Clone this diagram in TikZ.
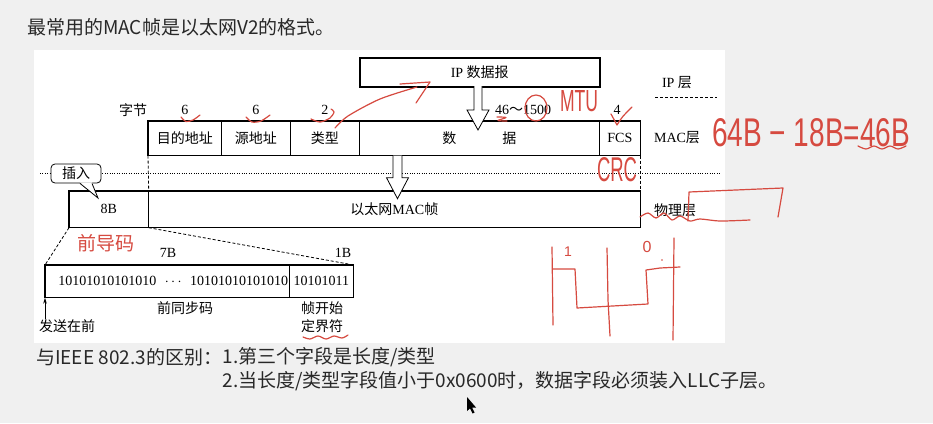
\documentclass[tikz,border=0pt]{standalone}
\usepackage{fontspec}
\setmainfont{Liberation Serif}
\newfontfamily\cjk{Noto Sans CJK SC}
\newfontfamily\hand{Liberation Sans}
\usetikzlibrary{calc,arrows.meta}
\definecolor{ink}{RGB}{40,40,40}
\definecolor{pen}{RGB}{214,74,64}
\definecolor{slide}{RGB}{240,240,240}

\begin{document}
\begin{tikzpicture}[x=1pt,y=-1pt,
  cell/.style={draw, line width=0.7pt, minimum height=34pt, inner sep=0pt,
    font=\fontsize{14}{16}\selectfont, anchor=north west},
  frame/.style={line width=1.5pt},
  lbl/.style={font=\fontsize{14}{16}\selectfont, inner sep=0pt},
  slidetext/.style={font=\cjk\fontsize{19}{22}\selectfont, text=ink, inner sep=0pt},
  hand/.style={pen, line width=1.2pt, line cap=round, line join=round},
  handtext/.style={text=pen, inner sep=0pt, font=\hand},
  blockarrow/.style={draw, fill=white, line width=0.8pt, line join=miter},
  dashline/.style={dash pattern=on 3pt off 2pt, line width=0.8pt},
  dotline/.style={dash pattern=on 0.8pt off 1.6pt, line width=0.8pt},
]
% slide background and the white figure area
\fill[slide] (0,0) rectangle (933,423);
\fill[white] (34,50) rectangle (725,343);
\useasboundingbox (0,0) rectangle (933,423);

% heading
\node[slidetext, anchor=west] (title) at (27,27) {最常用的MAC帧是以太网V2的格式。};

% IP datagram
\node[cell, minimum width=240pt, minimum height=29pt, line width=1.5pt] (ip) at (359,57) {IP {\cjk 数据报}};

% MAC frame fields
\node[cell, minimum width=73pt] (dst) at (148,121) {\cjk 目的地址};
\node[cell, minimum width=69pt] (src) at (221,121) {\cjk 源地址};
\node[cell, minimum width=69pt] (typ) at (290,121) {\cjk 类型};
\node[cell, minimum width=240pt] (dat) at (359,121) {\cjk 数\hspace{46pt}据};
\node[cell, minimum width=41pt] (fcs) at (599,121) {FCS};
\draw[frame] (dst.north west) rectangle (fcs.south east);

% field lengths
\node[lbl] (bytes) at (133,110) {\cjk 字节};
\node[lbl] (ndst) at ($(dst.north)+(0,-11)$) {6};
\node[lbl] (nsrc) at ($(src.north)+(0,-11)$) {6};
\node[lbl] (ntyp) at ($(typ.north)+(0,-11)$) {2};
\node[lbl] (ndat) at (523,110) {46{\cjk ～}1500};
\node[lbl] (nfcs) at (617,110) {4};

% layer names
\node[lbl] (lip) at (677,83) {IP {\cjk 层}};
\draw[dashline] (655,97) -- (717,97);
\node[lbl] (lmac) at (677,138) {MAC{\cjk 层}};
\node[lbl] (lphy) at (675,210) {\cjk 物理层};

% layer boundary
\draw[dotline] (40,173) -- (720,173);

% physical layer frame
\node[cell, minimum width=79pt, minimum height=36pt] (pre8) at (69,191) {8B};
\node[cell, minimum width=492pt, minimum height=36pt] (frm) at (148,191) {{\cjk 以太网}MAC{\cjk 帧}};
\draw[frame] (pre8.north west) rectangle (frm.south east);
\draw[dashline] (dst.south west) -- (pre8.north east);
\draw[dashline] (fcs.south east) -- (frm.north east);

% encapsulation arrows
\coordinate (a1) at (478,86);
\draw[blockarrow] (a1) +(-4,0) -- +(-4,24) -- +(-11,24) -- +(0,44) -- +(11,24) -- +(4,24) -- +(4,0);
\coordinate (a2) at ($(dat.south west)+(38.5,0)$);
\draw[blockarrow] (a2) +(-4.5,0) -- +(-4.5,22) -- +(-11,22) -- +(0,43) -- +(11,22) -- +(4.5,22) -- +(4.5,0);

% "insert" callout
\node[draw, fill=white, rounded corners=4pt, minimum width=50pt, minimum height=19pt, inner sep=0pt,
  line width=0.8pt, font=\cjk\fontsize{14}{16}\selectfont] (ins) at (76,173.5) {插入};
\coordinate (instip) at (98,198);
\fill[white] ($(ins.south)+(4,-1)$) -- (instip) -- ($(ins.south)+(16,-1)$) -- cycle;
\draw[line width=0.8pt] ($(ins.south)+(4,0)$) -- (instip) -- ($(ins.south)+(16,0)$);

% preamble detail
\node[cell, minimum width=244pt, minimum height=32pt] (sync) at (45,265) {};
\node[lbl, anchor=east] (syncbits) at ($(sync.east)+(-1.5,0)$) {10101010101010\hspace{0.6em}$\cdots$\hspace{0.6em}10101010101010};
\node[cell, minimum width=64pt, minimum height=32pt] (sfd) at (289,265) {10101011};
\draw[frame] (sync.north west) rectangle (sfd.south east);
\draw[dashline] (pre8.south west) -- (sync.north west);
\draw[dashline] (pre8.south east) -- (sfd.north east);
\node[lbl] (n7) at (168,253) {7B};
\node[lbl] (n1) at (343,253) {1B};
\node[lbl] (syncname) at (185,308) {\cjk 前同步码};
\node[lbl] (sfdname1) at (322,308) {\cjk 帧开始};
\node[lbl] (sfdname2) at (322,326) {\cjk 定界符};
\node[lbl] (send) at (67,326) {\cjk 发送在前};
\draw[-{Stealth[length=6pt,width=3.5pt]}, line width=0.7pt] (sync.south west |- send.north) -- (sync.south west);
\node[font=\cjk\fontsize{19}{22}\selectfont, text=pen, inner sep=0pt] (pream) at (106,243) {前导码};

% differences from IEEE 802.3
\node[slidetext, anchor=west] (diff) at (36,357) {与IEEE 802.3的区别：};
\node[slidetext, anchor=west] (item1) at (diff.east) {1.第三个字段是长度/类型};
\node[slidetext, anchor=west] (item2) at ($(item1.west)+(0,24)$) {2.当长度/类型字段值小于0x0600时，数据字段必须装入LLC子层。};

% mouse pointer
\fill[black] (467,397) -- (467,411) -- (470,408.5) -- (472.5,413.5) -- (474.5,412.5) -- (472,407.5) -- (476,407.5) -- cycle;

% pen marks
\draw[hand] plot[smooth] coordinates {(181,117) (186,121.5) (193,120) (200,115)};
\draw[hand] plot[smooth] coordinates {(246,117) (252,122) (261,121) (270,115)};
\draw[hand] plot[smooth] coordinates {(311,119) (320,122) (330,118) (334,112) (331,109)};
\draw[hand] plot[smooth] coordinates {(335,128) (348,116) (380,99) (417,87)};
\draw[hand] (400,84) -- (430,82) -- (416,103);
\draw[hand] plot[smooth] coordinates {(497,117) (506,117.5) (498,120.5) (507,121)};
\draw[hand] (536,108) ellipse [x radius=11, y radius=13];
\node[handtext] (mtu) at (579,101) {\resizebox{38pt}{21pt}{MTU}};
\draw[hand] (611,114) .. controls (614,120) .. (617,125) .. controls (622,117) .. (632,107);
\node[handtext] (crc) at (617,170) {\resizebox{40pt}{24pt}{CRC}};
\node[handtext] (calc) at (811,133) {\resizebox{198pt}{28pt}{64B − 18B=46B}};
\draw[hand] plot[smooth] coordinates {(858,146) (866,149) (874,146) (882,149) (890,146) (898,149) (906,146)};
\draw[hand] plot[smooth] coordinates {(303,337) (310,339) (318,336) (326,339) (334,336) (342,338) (348,335)};
\draw[hand] plot[smooth] coordinates {(640,217) (648,213) (656,218) (664,213) (672,220) (680,216) (690,221) (700,219) (720,221) (750,220)};
\draw[hand] (688,221) -- (689,192) -- (783,188) -- (778,217);
\draw[hand] (552,247) -- (553,325);
\draw[hand] (607,248) -- (608,300) -- (610,336);
\draw[hand] (674,238) -- (673,340);
\draw[hand] (553,269) -- (575,269) -- (577,308) -- (648,304) -- (646,270) -- (660,268) -- (680,267);
\node[handtext, font=\hand\fontsize{14}{14}\selectfont] (one) at (568,252) {1};
\node[handtext, font=\hand\fontsize{16}{16}\selectfont] (zero) at (647,247) {0};
\fill[pen] (662,260) circle (0.9);
\end{tikzpicture}
\end{document}
